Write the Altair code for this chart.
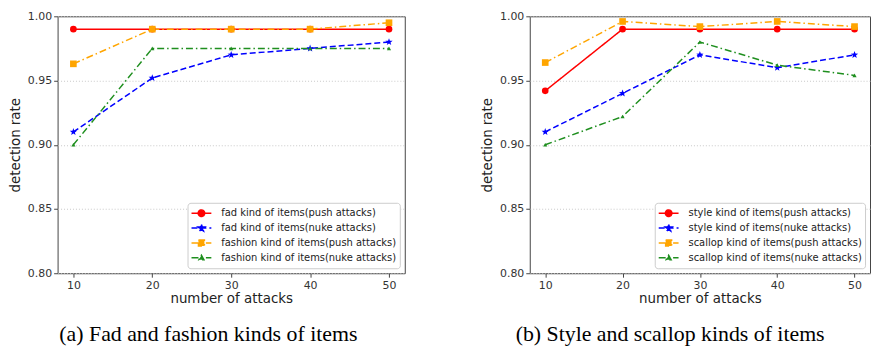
import math
import altair as alt
import pandas as pd

# ---------------- data ----------------
X_VALUES = [10, 20, 30, 40, 50]

LEFT_NAMES = [
    "fad kind of items(push attacks)",
    "fad kind of items(nuke attacks)",
    "fashion kind of items(push attacks)",
    "fashion kind of items(nuke attacks)",
]
LEFT_FAD_PUSH = [0.990, 0.990, 0.990, 0.990, 0.990]
LEFT_FAD_NUKE = [0.910, 0.952, 0.970, 0.975, 0.980]
LEFT_FASHION_PUSH = [0.963, 0.990, 0.990, 0.990, 0.995]
LEFT_FASHION_NUKE = [0.900, 0.975, 0.975, 0.975, 0.975]

RIGHT_NAMES = [
    "style kind of items(push attacks)",
    "style kind of items(nuke attacks)",
    "scallop kind of items(push attacks)",
    "scallop kind of items(nuke attacks)",
]
RIGHT_STYLE_PUSH = [0.942, 0.990, 0.990, 0.990, 0.990]
RIGHT_STYLE_NUKE = [0.910, 0.940, 0.970, 0.960, 0.970]
RIGHT_SCALLOP_PUSH = [0.964, 0.996, 0.992, 0.996, 0.992]
RIGHT_SCALLOP_NUKE = [0.900, 0.922, 0.980, 0.962, 0.954]

X_TICKS = [10, 20, 30, 40, 50]
Y_TICKS = [0.80, 0.85, 0.90, 0.95, 1.00]

CAPTION_A = "(a) Fad and fashion kinds of items"
CAPTION_B = "(b) Style and scallop kinds of items"

# ---------------- style ----------------
COLORS = ["#ff0000", "#0000ff", "#ffa500", "#1f8f1f"]
DASHES = [[1, 0], [6, 3], [7, 3, 1.5, 3], [7, 3, 1.5, 3]]


def star_path(R, r):
    pts = []
    for k in range(10):
        ang = math.radians(-90 + 36 * k)
        rad = R if k % 2 == 0 else r
        pts.append(f"{rad * math.cos(ang):.3f},{rad * math.sin(ang):.3f}")
    return "M" + "L".join(pts) + "Z"


SHAPES = ["circle", star_path(1.15, 0.47), "square", "triangle-up"]

LINE = "M-1,0H1"
LEGEND_PATHS = [
    LINE + "M-0.33,0A0.33,0.33 0 1,0 0.33,0A0.33,0.33 0 1,0 -0.33,0Z",
    LINE + star_path(0.36, 0.15),
    LINE + "M-0.3,-0.3H0.3V0.3H-0.3Z",
    LINE + "M0,-0.26L0.25,0.19L-0.25,0.19Z",
]


def panel(names, series, caption, width, height, dx):
    rows = []
    for name, vals in zip(names, series):
        for xv, yv in zip(X_VALUES, vals):
            rows.append({"series": name, "x": xv, "y": yv})
    df = pd.DataFrame(rows)

    legend = alt.Legend(
        title=None,
        orient="bottom-right",
        offset=5,
        labelFont="DejaVu Sans",
        labelFontSize=10,
        labelColor="#222222",
        labelLimit=400,
        labelOffset=9,
        symbolSize=400,
        symbolStrokeWidth=1.5,
        symbolOpacity=1,
        clipHeight=15,
        rowPadding=0,
        padding=3,
        strokeColor="#cccccc",
        fillColor="white",
        cornerRadius=3,
    )

    x = alt.X(
        "x:Q",
        scale=alt.Scale(domain=[8, 52], nice=False, zero=False),
        axis=alt.Axis(values=X_TICKS, title="number of attacks", grid=False,
                      titlePadding=2),
    )
    y = alt.Y(
        "y:Q",
        scale=alt.Scale(domain=[0.8, 1.0], nice=False, zero=False),
        axis=alt.Axis(values=Y_TICKS, format=".2f", title="detection rate",
                      grid=True, gridDash=[1, 2], gridColor="#c8c8c8",
                      titlePadding=5),
    )

    base = alt.Chart(df)
    lines = base.mark_line(strokeWidth=1.5).encode(
        x=x, y=y,
        color=alt.Color("series:N", scale=alt.Scale(domain=names, range=COLORS), legend=None),
        strokeDash=alt.StrokeDash("series:N", scale=alt.Scale(domain=names, range=DASHES), legend=None),
    )
    points = base.mark_point(filled=True, opacity=1).encode(
        x=x, y=y,
        color=alt.Color("series:N", scale=alt.Scale(domain=names, range=COLORS), legend=None),
        shape=alt.Shape("series:N", scale=alt.Scale(domain=names, range=SHAPES), legend=None),
        size=alt.condition(alt.datum.series == names[3], alt.value(18), alt.value(45)),
    )
    # legend-only layer: no rows pass the filter, its scales give the legend
    key = base.transform_filter("datum.y < 0").mark_point(size=400, strokeWidth=1.5).encode(
        x=x, y=y,
        fill=alt.Fill("series:N", scale=alt.Scale(domain=names, range=COLORS), legend=legend),
        stroke=alt.Stroke("series:N", scale=alt.Scale(domain=names, range=COLORS), legend=legend),
        strokeDash=alt.StrokeDash("series:N", scale=alt.Scale(domain=names, range=DASHES), legend=legend),
        shape=alt.Shape("series:N", scale=alt.Scale(domain=names, range=LEGEND_PATHS), legend=legend),
    )

    return alt.layer(lines, points, key).resolve_scale(
        color="independent", strokeDash="independent", shape="independent",
        fill="independent", stroke="independent",
    ).properties(
        width=width,
        height=height,
        title=alt.TitleParams(
            caption,
            orient="bottom",
            font="Liberation Serif",
            fontSize=22,
            fontWeight="normal",
            color="#000000",
            offset=19,
            dx=dx,
        ),
    )


left = panel(LEFT_NAMES, [LEFT_FAD_PUSH, LEFT_FAD_NUKE, LEFT_FASHION_PUSH, LEFT_FASHION_NUKE],
             CAPTION_A, 350, 259, -23)
right = panel(RIGHT_NAMES, [RIGHT_STYLE_PUSH, RIGHT_STYLE_NUKE, RIGHT_SCALLOP_PUSH, RIGHT_SCALLOP_NUKE],
              CAPTION_B, 343, 259, -30)

chart = (
    alt.hconcat(left, right, spacing=75)
    .properties(padding={"left": 0, "top": 0, "right": 0, "bottom": 0})
    .configure_view(stroke="#444444", strokeWidth=1)
    .configure_axis(
        labelFont="DejaVu Sans",
        labelFontSize=11,
        labelColor="#333333",
        titleFont="DejaVu Sans",
        titleFontSize=13.5,
        titleFontWeight="normal",
        titleColor="#222222",
        tickSize=4,
        tickColor="#444444",
        labelPadding=2,
        domain=False,
    )
)

chart.save("out.html", embed_options={"renderer": "svg", "actions": False})
